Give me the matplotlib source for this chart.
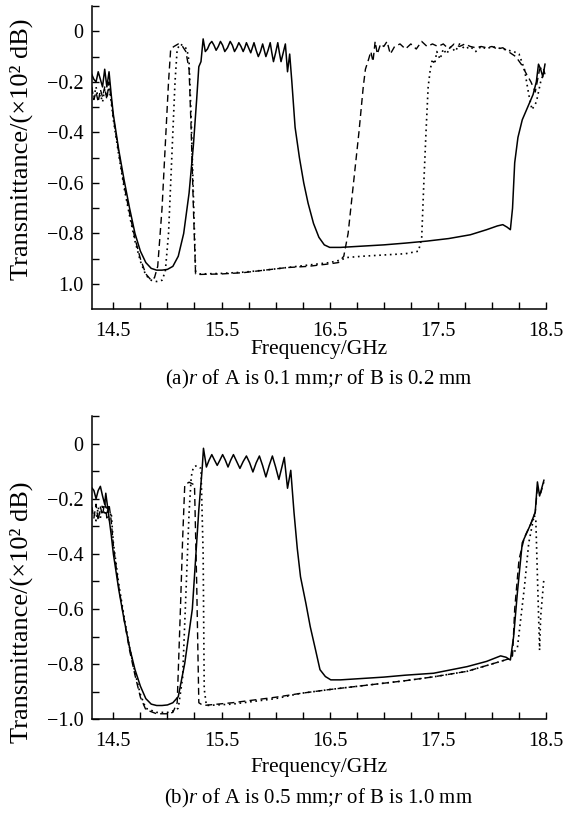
import matplotlib
matplotlib.use("Agg")
import matplotlib.pyplot as plt
from matplotlib.ticker import FixedLocator, FixedFormatter

plt.rcParams['font.family'] = ['Liberation Serif', 'DejaVu Serif']
plt.rcParams['mathtext.fontset'] = 'custom'
plt.rcParams['mathtext.rm'] = 'Liberation Serif'
plt.rcParams['mathtext.it'] = 'Liberation Serif:italic'

# ---------------- panel (a) ----------------
a_solid_x = [14.30, 14.32, 14.34, 14.36, 14.38, 14.40, 14.42, 14.44, 14.46, 14.48, 14.50, 14.55, 14.60, 14.65,
             14.70, 14.75, 14.80, 14.85, 14.90, 14.95, 15.00, 15.05, 15.10, 15.15, 15.20, 15.24, 15.27, 15.29,
             15.31, 15.33, 15.35, 15.37, 15.39, 15.41, 15.43, 15.45, 15.47, 15.49, 15.51, 15.53, 15.555, 15.58,
             15.60, 15.62, 15.64, 15.66, 15.68, 15.70, 15.715, 15.73, 15.75, 15.77, 15.785, 15.80, 15.82, 15.84,
             15.86, 15.88, 15.895, 15.91, 15.93, 15.95, 15.965, 15.98, 16.00, 16.02, 16.035, 16.05, 16.07, 16.09,
             16.11, 16.13, 16.15, 16.18, 16.22, 16.26, 16.30, 16.35, 16.40, 16.45, 16.50, 16.60, 16.80, 17.00,
             17.20, 17.40, 17.60, 17.80, 17.95, 18.05, 18.10, 18.14, 18.17, 18.19, 18.21, 18.24, 18.28, 18.33,
             18.38, 18.41, 18.43, 18.45, 18.47, 18.49]
a_solid_y = [-0.17, -0.19, -0.20, -0.16, -0.19, -0.22, -0.15, -0.22, -0.16, -0.25, -0.33, -0.47, -0.59, -0.70,
             -0.80, -0.87, -0.915, -0.938, -0.945, -0.945, -0.942, -0.93, -0.89, -0.80, -0.64, -0.45, -0.27, -0.14,
             -0.12, -0.03, -0.08, -0.07, -0.05, -0.04, -0.055, -0.075, -0.06, -0.04, -0.055, -0.08, -0.065, -0.04,
             -0.055, -0.08, -0.065, -0.045, -0.06, -0.08, -0.065, -0.045, -0.065, -0.085, -0.065, -0.045, -0.075, -0.10,
             -0.08, -0.05, -0.075, -0.10, -0.075, -0.045, -0.085, -0.12, -0.085, -0.045, -0.085, -0.12, -0.085, -0.05,
             -0.16, -0.09, -0.20, -0.38, -0.50, -0.60, -0.68, -0.76, -0.815, -0.845, -0.855, -0.855, -0.85, -0.845,
             -0.838, -0.83, -0.82, -0.805, -0.785, -0.77, -0.765, -0.775, -0.785, -0.70, -0.52, -0.42, -0.35, -0.30,
             -0.25, -0.20, -0.13, -0.15, -0.18, -0.13]

a_dash_x = [14.30, 14.32, 14.34, 14.36, 14.38, 14.40, 14.42, 14.44, 14.46, 14.48, 14.50, 14.55, 14.60, 14.65,
            14.70, 14.75, 14.80, 14.85, 14.88, 14.91, 14.95, 14.98, 15.01, 15.03, 15.06, 15.10, 15.14, 15.17,
            15.20, 15.22, 15.24, 15.26, 15.30, 15.50, 15.70, 15.90, 16.10, 16.30, 16.50, 16.58, 16.63, 16.67,
            16.72, 16.77, 16.81, 16.83, 16.86, 16.88, 16.90, 16.92, 16.94, 16.97, 17.00, 17.03, 17.06, 17.10,
            17.15, 17.20, 17.25, 17.30, 17.35, 17.40, 17.45, 17.50, 17.55, 17.60, 17.65, 17.70, 17.75, 17.80,
            17.85, 17.90, 17.95, 18.00, 18.05, 18.10, 18.15, 18.22, 18.27, 18.32, 18.36, 18.40, 18.44, 18.47, 18.49]
a_dash_y = [-0.22, -0.27, -0.24, -0.28, -0.23, -0.26, -0.22, -0.27, -0.20, -0.27, -0.34, -0.48, -0.61, -0.72,
            -0.82, -0.90, -0.96, -0.985, -0.975, -0.93, -0.70, -0.45, -0.20, -0.07, -0.06, -0.05, -0.06, -0.08,
            -0.15, -0.40, -0.70, -0.96, -0.962, -0.96, -0.955, -0.945, -0.935, -0.93, -0.92, -0.915, -0.89, -0.80,
            -0.60, -0.40, -0.22, -0.15, -0.11, -0.08, -0.12, -0.04, -0.09, -0.05, -0.06, -0.04, -0.09, -0.06,
            -0.05, -0.07, -0.05, -0.07, -0.04, -0.06, -0.05, -0.06, -0.05, -0.07, -0.05, -0.06, -0.05, -0.06,
            -0.065, -0.06, -0.065, -0.06, -0.07, -0.065, -0.08, -0.10, -0.13, -0.17, -0.20, -0.24, -0.15, -0.14, -0.17]

a_dot_x = [14.30, 14.32, 14.34, 14.36, 14.38, 14.40, 14.42, 14.44, 14.46, 14.48, 14.50, 14.55, 14.60, 14.65,
           14.70, 14.75, 14.80, 14.85, 14.90, 14.95, 14.98, 15.01, 15.04, 15.07, 15.09, 15.12, 15.15, 15.18,
           15.20, 15.22, 15.24, 15.26, 15.30, 15.50, 15.70, 15.90, 16.10, 16.30, 16.50, 16.60, 16.66, 16.80,
           17.00, 17.20, 17.32, 17.35, 17.37, 17.39, 17.41, 17.43, 17.45, 17.47, 17.49, 17.52, 17.55, 17.58,
           17.62, 17.66, 17.70, 17.75, 17.80, 17.85, 17.90, 17.95, 18.00, 18.05, 18.10, 18.15, 18.20, 18.25,
           18.30, 18.34, 18.37, 18.41, 18.45, 18.49]
a_dot_y = [-0.24, -0.26, -0.22, -0.27, -0.25, -0.28, -0.23, -0.26, -0.22, -0.28, -0.35, -0.49, -0.62, -0.73,
           -0.83, -0.91, -0.965, -0.985, -0.99, -0.985, -0.95, -0.80, -0.50, -0.20, -0.07, -0.05, -0.06, -0.07,
           -0.12, -0.35, -0.65, -0.95, -0.96, -0.958, -0.953, -0.945, -0.935, -0.925, -0.915, -0.905, -0.895, -0.89,
           -0.885, -0.88, -0.87, -0.82, -0.60, -0.40, -0.22, -0.15, -0.11, -0.13, -0.08, -0.11, -0.07, -0.09,
           -0.06, -0.08, -0.05, -0.07, -0.06, -0.08, -0.06, -0.07, -0.06, -0.065, -0.07, -0.075, -0.08, -0.09,
           -0.15, -0.25, -0.31, -0.28, -0.20, -0.15]

# ---------------- panel (b) ----------------
b_solid_x = [14.30, 14.32, 14.34, 14.36, 14.38, 14.40, 14.42, 14.43, 14.45, 14.48, 14.50, 14.55, 14.60, 14.65,
             14.70, 14.75, 14.80, 14.85, 14.90, 14.95, 15.00, 15.05, 15.10, 15.16, 15.23, 15.29, 15.32, 15.333,
             15.36, 15.385, 15.41, 15.435, 15.46, 15.485, 15.51, 15.535, 15.56, 15.585, 15.61, 15.64, 15.67, 15.70,
             15.73, 15.76, 15.79, 15.82, 15.85, 15.88, 15.91, 15.94, 15.97, 16.00, 16.03, 16.055, 16.08,
             16.11, 16.14, 16.17, 16.20, 16.23, 16.28, 16.32, 16.37, 16.41, 16.46, 16.51, 16.60, 16.80, 17.00,
             17.20, 17.46, 17.77, 17.95, 18.08, 18.13, 18.17, 18.20, 18.235, 18.28, 18.36, 18.40, 18.42, 18.44, 18.48]
b_solid_y = [-0.16, -0.17, -0.20, -0.17, -0.155, -0.19, -0.22, -0.18, -0.24, -0.33, -0.40, -0.53, -0.64, -0.74,
             -0.82, -0.88, -0.925, -0.945, -0.95, -0.95, -0.948, -0.94, -0.918, -0.797, -0.60, -0.24, -0.097, -0.017,
             -0.085, -0.06, -0.04, -0.06, -0.079, -0.06, -0.04, -0.06, -0.085, -0.06, -0.04, -0.065, -0.09, -0.065,
             -0.045, -0.07, -0.103, -0.07, -0.045, -0.08, -0.121, -0.08, -0.045, -0.085, -0.13, -0.09, -0.05,
             -0.162, -0.097, -0.25, -0.38, -0.483, -0.58, -0.664, -0.75, -0.82, -0.845, -0.857, -0.857, -0.852, -0.847,
             -0.84, -0.833, -0.809, -0.79, -0.77, -0.775, -0.785, -0.70, -0.54, -0.36, -0.29, -0.248, -0.139, -0.19, -0.133]

b_dash_x = [14.30, 14.32, 14.34, 14.36, 14.38, 14.40, 14.42, 14.44, 14.46, 14.48, 14.50, 14.55, 14.60, 14.65,
            14.70, 14.75, 14.80, 14.90, 15.00, 15.05, 15.09, 15.12, 15.14, 15.16, 15.20, 15.25, 15.27, 15.29,
            15.33, 15.60, 16.00, 16.23, 16.50, 16.85, 17.20, 17.46, 17.77, 18.08, 18.16, 18.19, 18.21, 18.25,
            18.30, 18.36, 18.40, 18.42, 18.45, 18.48]
b_dash_y = [-0.23, -0.27, -0.22, -0.28, -0.23, -0.26, -0.21, -0.27, -0.22, -0.28, -0.37, -0.52, -0.64, -0.75,
            -0.84, -0.92, -0.965, -0.98, -0.98, -0.975, -0.94, -0.60, -0.35, -0.15, -0.14, -0.15, -0.50, -0.94,
            -0.95, -0.94, -0.92, -0.906, -0.892, -0.876, -0.86, -0.846, -0.826, -0.79, -0.78, -0.77, -0.60, -0.42,
            -0.34, -0.29, -0.25, -0.16, -0.18, -0.14]

b_dot_x = [14.30, 14.32, 14.34, 14.36, 14.38, 14.40, 14.42, 14.44, 14.46, 14.48, 14.50, 14.55, 14.60, 14.65,
           14.70, 14.75, 14.80, 14.90, 15.00, 15.05, 15.10, 15.14, 15.17, 15.20, 15.22, 15.24, 15.27, 15.31,
           15.33, 15.34, 15.36, 15.60, 16.00, 16.23, 16.50, 16.85, 17.20, 17.46, 17.77, 18.08, 18.16, 18.235,
           18.30, 18.34, 18.39, 18.405, 18.42, 18.44, 18.45, 18.48]
b_dot_y = [-0.24, -0.25, -0.28, -0.23, -0.27, -0.22, -0.26, -0.23, -0.28, -0.25, -0.36, -0.51, -0.63, -0.74,
           -0.83, -0.91, -0.96, -0.975, -0.975, -0.97, -0.96, -0.85, -0.55, -0.25, -0.12, -0.085, -0.08, -0.09,
           -0.40, -0.89, -0.95, -0.945, -0.925, -0.906, -0.892, -0.876, -0.86, -0.846, -0.826, -0.79, -0.78, -0.74,
           -0.52, -0.36, -0.26, -0.274, -0.48, -0.749, -0.628, -0.49]

x_major = [14.5, 15.5, 16.5, 17.5, 18.5]
x_labels = ['14.5', '15.5', '16.5', '17.5', '18.5']
x_all = [14.5, 14.75, 15.0, 15.25, 15.5, 15.75, 16.0, 16.25, 16.5, 16.75, 17.0, 17.25, 17.5, 17.75, 18.0, 18.25, 18.5]
y_all = [0.1, 0.0, -0.1, -0.2, -0.3, -0.4, -0.5, -0.6, -0.7, -0.8, -0.9, -1.0]
y_major = [0.0, -0.2, -0.4, -0.6, -0.8, -1.0]
a_ylabels = ['0', '\u22120.2', '\u22120.4', '\u22120.6', '\u22120.8', '1.0']
b_ylabels = ['0', '\u22120.2', '\u22120.4', '\u22120.6', '\u22120.8', '\u22121.0']

xlabel = 'Frequency/GHz'
ylabel = 'Transmittance/(\u00d710\u00b2 dB)'
caption_a = r'(a)$\mathit{r}$ of A is 0.1 mm;$\mathit{r}$ of B is 0.2 mm'
caption_b = r'(b)$\mathit{r}$ of A is 0.5 mm;$\mathit{r}$ of B is 1.0 mm'

fig = plt.figure(figsize=(5.69, 8.17), dpi=100)
ax_a = fig.add_axes([0.1612, 0.6214, 0.7985, 0.3712])
ax_b = fig.add_axes([0.1612, 0.1196, 0.7985, 0.3712])

solid_kw = dict(color='black', lw=1.1, linestyle='-')
dash_kw = dict(color='black', lw=1.0, linestyle=(0, (5, 3)))
dot_kw = dict(color='black', lw=1.2, linestyle=(0, (1, 2.2)))

ax_a.plot(a_dash_x, a_dash_y, **dash_kw)
ax_a.plot(a_dot_x, a_dot_y, **dot_kw)
ax_a.plot(a_solid_x, a_solid_y, **solid_kw)
ax_b.plot(b_dash_x, b_dash_y, **dash_kw)
ax_b.plot(b_dot_x, b_dot_y, **dot_kw)
ax_b.plot(b_solid_x, b_solid_y, **solid_kw)

for ax, ylims, ylabs, cap, capy, xly, yly in [(ax_a, (-1.1, 0.1), a_ylabels, caption_a, 0.535, 0.572, 0.8176),
                                              (ax_b, (-1.0, 0.1), b_ylabels, caption_b, 0.023, 0.060, 0.251)]:
    ax.set_xlim(14.3, 18.5)
    ax.set_ylim(*ylims)
    for s in ['top', 'right']:
        ax.spines[s].set_visible(False)
    for s in ['left', 'bottom']:
        ax.spines[s].set_linewidth(1.1)
    ax.xaxis.set_major_locator(FixedLocator(x_major))
    ax.xaxis.set_major_formatter(FixedFormatter(x_labels))
    ax.xaxis.set_minor_locator(FixedLocator(x_all))
    ax.yaxis.set_major_locator(FixedLocator(y_major))
    ax.yaxis.set_major_formatter(FixedFormatter(ylabs))
    ax.yaxis.set_minor_locator(FixedLocator(y_all))
    ax.tick_params(which='both', direction='in', length=5, width=1.0, labelsize=14.5)
    ax.tick_params(axis='x', which='major', pad=9)
    ax.tick_params(axis='y', which='major', pad=6)
    fig.text(0.037, yly, ylabel, fontsize=19, rotation=90, ha='center', va='center')
    fig.text(0.5 + 0.06, xly, xlabel, fontsize=15.5, ha='center', va='center')
    fig.text(0.5 + 0.06, capy, cap, fontsize=15, ha='center', va='center')

fig.savefig('out.png', dpi=100)
